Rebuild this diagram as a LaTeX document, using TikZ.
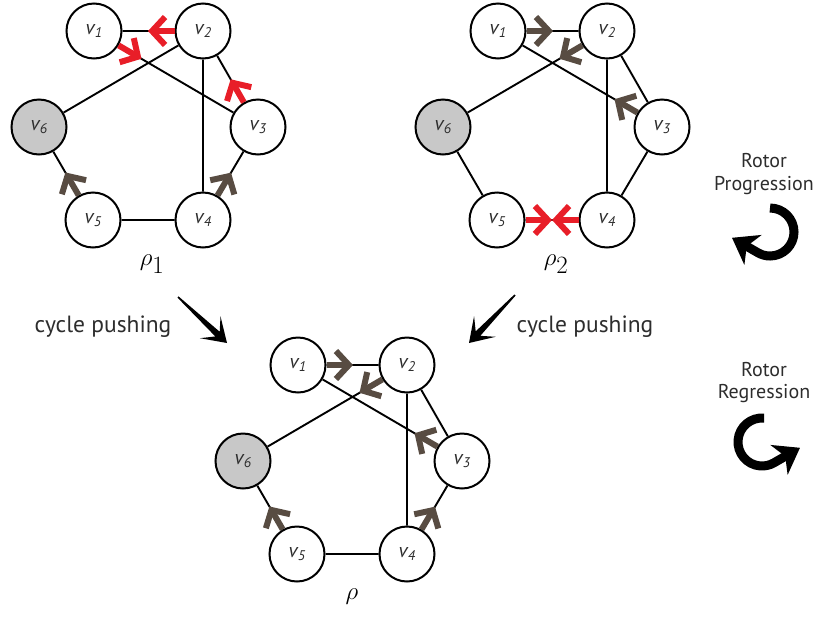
\documentclass[tikz,border=0pt]{standalone}
\usepackage{fontspec}
\newfontfamily\labfont{PT Sans}
\usetikzlibrary{arrows.meta,calc}
\definecolor{rotred}{RGB}{232,30,40}
\definecolor{rotbrown}{RGB}{88,76,66}
\definecolor{sinkgray}{RGB}{200,200,200}
\definecolor{txtgray}{RGB}{45,45,45}
\tikzset{
 vert/.style={circle, draw=black, line width=2pt, fill=white, minimum size=55pt, inner sep=0pt, font=\labfont\fontsize{20}{20}\selectfont, text=txtgray},
 sink/.style={vert, fill=sinkgray},
 edge/.style={line width=1.9pt, draw=black},
 rotor/.style={line width=6pt, -{Straight Barb[length=13pt,width=28pt]}},
 rred/.style={rotor, draw=rotred},
 rbrown/.style={rotor, draw=rotbrown},
 rho/.style={font=\fontsize{37}{44}\selectfont},
 captxt/.style={font=\labfont\fontsize{23.5}{28}\selectfont, text=txtgray, anchor=base},
 rlabel/.style={font=\labfont\fontsize{20}{24}\selectfont, text=txtgray, anchor=base},
 icon/.style={line width=9pt, draw=black, -{Stealth[length=24pt,width=34pt,inset=7pt]}},
}
\newcommand\vl[1]{\itshape v\kern0.3pt\raisebox{-3.5pt}{\fontsize{14}{14}\selectfont #1}}
\newcommand\mygraph[2]{%
 \begin{scope}[shift={#2}]
  \node[vert] (#11) at (94,-31) {\vl{1}};
  \node[vert] (#12) at (203,-31) {\vl{2}};
  \node[vert] (#13) at (258,-127) {\vl{3}};
  \node[vert] (#14) at (203,-220) {\vl{4}};
  \node[vert] (#15) at (93,-220) {\vl{5}};
  \node[sink] (#16) at (39,-127) {\vl{6}};
 \end{scope}
 \draw[edge] (#11) -- (#12) (#11) -- (#13) (#12) -- (#16) (#12) -- (#14)
   (#12) -- (#13) (#13) -- (#14) (#14) -- (#15) (#15) -- (#16);
}
\newcommand\bigarrow[2]{%
 \coordinate (ia) at ($(#2)!13pt!(#1)$);
 \coordinate (ib) at ($(#2)!23pt!(#1)$);
 \fill[black] ($(#1)!0.8pt!90:(#2)$) -- ($(ia)!3.2pt!90:(#2)$) -- ($(ib)!15pt!90:(#2)$)
   -- (#2) -- ($(ib)!15pt!-90:(#2)$) -- ($(ia)!3.2pt!-90:(#2)$) -- ($(#1)!0.8pt!-90:(#2)$) -- cycle;
}
\begin{document}
\begin{tikzpicture}[x=1pt,y=1pt]
\useasboundingbox (0,0) rectangle (817,-619);
% graph rho_1
\mygraph{a}{(0,0)}
\draw[rred] (a2) -- ($(a2)!55pt!(a1)$);
\draw[rred] (a1) -- ($(a1)!55pt!(a3)$);
\draw[rred] (a3) -- ($(a3)!55pt!(a2)$);
\draw[rbrown] (a4) -- ($(a4)!55pt!(a3)$);
\draw[rbrown] (a5) -- ($(a5)!55pt!(a6)$);
\node[rho] (r1) at (152,-264) {$\rho_1$};
% graph rho_2
\mygraph{b}{(404,0)}
\draw[rbrown] (b1) -- ($(b1)!55pt!(b2)$);
\draw[rbrown] (b2) -- ($(b2)!55pt!(b6)$);
\draw[rbrown] (b3) -- ($(b3)!55pt!(b1)$);
\draw[rred] (b5) -- ($(b5)!55pt!(b4)$);
\draw[rred] (b4) -- ($(b4)!55pt!(b5)$);
\node[rho] (r2) at (556,-264) {$\rho_2$};
% graph rho
\mygraph{c}{(204,-334)}
\draw[rbrown] (c1) -- ($(c1)!55pt!(c2)$);
\draw[rbrown] (c2) -- ($(c2)!55pt!(c6)$);
\draw[rbrown] (c3) -- ($(c3)!55pt!(c1)$);
\draw[rbrown] (c4) -- ($(c4)!55pt!(c3)$);
\draw[rbrown] (c5) -- ($(c5)!55pt!(c6)$);
\node[rho] (r3) at (352,-597) {$\rho$};
% cycle pushing
\coordinate (la) at (178,-297); \coordinate (lb) at (227,-343);
\bigarrow{la}{lb}
\coordinate (ra) at (515,-295); \coordinate (rb) at (469,-343);
\bigarrow{ra}{rb}
\node[captxt] (cpl) at (103,-332) {cycle pushing};
\node[captxt] (cpr) at (585,-332) {cycle pushing};
% rotor progression / regression
\node[rlabel] (rp1) at (764,-167) {Rotor};
\node[rlabel] (rp2) at (764,-190) {Progression};
\node[rlabel] (rg1) at (764,-376) {Rotor};
\node[rlabel] (rg2) at (764,-398) {Regression};
\begin{scope}[shift={(770,-232)}]
 \draw[icon] (90:24) arc[start angle=90, end angle=-120, radius=24] -- ++(150:30);
\end{scope}
\begin{scope}[shift={(762,-442)}]
 \draw[icon] (85:24) arc[start angle=85, end angle=300, radius=24] -- ++(30:30);
\end{scope}
\end{tikzpicture}
\end{document}
